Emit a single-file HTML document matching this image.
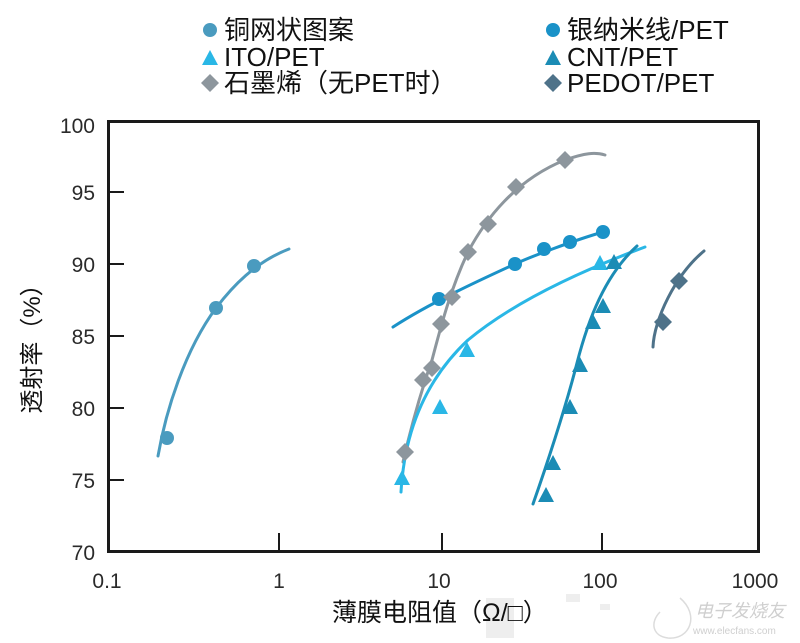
<!DOCTYPE html>
<html>
<head>
<meta charset="utf-8">
<style>
html,body{margin:0;padding:0;background:#fff;}
svg{display:block;}
text{font-family:"Liberation Sans","Noto Sans CJK SC",sans-serif;}
</style>
</head>
<body>
<svg width="800" height="643" viewBox="0 0 800 643" xmlns="http://www.w3.org/2000/svg">
<rect width="800" height="643" fill="#fff"/>

<!-- faint background smudges -->
<g fill="#eeeeee">
  <rect x="486" y="598" width="28" height="40"/>
  <rect x="566" y="594" width="14" height="8"/>
  <rect x="600" y="604" width="10" height="6"/>
</g>

<!-- Legend -->
<g font-size="26" fill="#111">
  <circle cx="210" cy="30" r="7" fill="#4a9bbf"/>
  <text x="224" y="39">铜网状图案</text>
  <polygon points="202,65 218,65 210,50" fill="#2ab7e6"/>
  <text x="224" y="66">ITO/PET</text>
  <polygon points="210,74 219,83 210,92 201,83" fill="#8d969d"/>
  <text x="224" y="92">石墨烯（无PET时）</text>

  <circle cx="553" cy="30" r="7" fill="#1a92c8"/>
  <text x="567" y="39">银纳米线/PET</text>
  <polygon points="545,65 561,65 553,50" fill="#1b8cb5"/>
  <text x="567" y="66">CNT/PET</text>
  <polygon points="553,74 562,83 553,92 544,83" fill="#4e7289"/>
  <text x="567" y="92">PEDOT/PET</text>
</g>

<!-- Axes box -->
<rect x="108.5" y="121.5" width="650" height="430" fill="none" stroke="#1a1a1a" stroke-width="3"/>

<!-- Ticks -->
<g stroke="#1a1a1a" stroke-width="2">
  <line x1="108" y1="192" x2="124" y2="192"/>
  <line x1="108" y1="264" x2="124" y2="264"/>
  <line x1="108" y1="336" x2="124" y2="336"/>
  <line x1="108" y1="408" x2="124" y2="408"/>
  <line x1="108" y1="480" x2="124" y2="480"/>
  <line x1="279" y1="551" x2="279" y2="533"/>
  <line x1="442" y1="551" x2="442" y2="533"/>
  <line x1="602" y1="551" x2="602" y2="533"/>
</g>

<!-- Y tick labels -->
<g font-size="21" fill="#2a2a2a" text-anchor="end">
  <text x="95" y="133">100</text>
  <text x="95" y="200">95</text>
  <text x="95" y="272">90</text>
  <text x="95" y="344">85</text>
  <text x="95" y="416">80</text>
  <text x="95" y="488">75</text>
  <text x="95" y="560">70</text>
</g>
<!-- X tick labels -->
<g font-size="21" fill="#2a2a2a" text-anchor="middle">
  <text x="107" y="588">0.1</text>
  <text x="279" y="588">1</text>
  <text x="439" y="588">10</text>
  <text x="600" y="588">100</text>
  <text x="755" y="588">1000</text>
</g>

<!-- Axis titles -->
<text x="0" y="0" font-size="24" fill="#111" text-anchor="middle" transform="translate(40,343) rotate(-90)">透射率（%）</text>
<text x="332" y="621" font-size="25" fill="#111">薄膜电阻值（Ω/□）</text>

<!-- Watermark -->
<g fill="#cfcfcf">
  <text x="695" y="617" font-size="18" font-style="italic">电子发烧友</text>
  <text x="693" y="634" font-size="10">www.elecfans.com</text>
</g>
<path d="M680,598 C700,615 690,640 668,638 C652,636 650,622 660,612" fill="none" stroke="#dcdcdc" stroke-width="1.5"/>

<!-- Curves -->
<g fill="none" stroke-width="3" stroke-linecap="round">
  <path d="M158,456 C166,410 185,350 216,308 C232,287 255,262 289,249" stroke="#4a9bbf"/>
  <path d="M403,462 C415,410 425,380 432,360 C440,330 450,290 468,252 C485,220 515,180 565,160 C585,153 595,152 605,155" stroke="#8d969d"/>
  <path d="M393,327 C430,303 480,280 515,264 C530,257 575,240 603,232" stroke="#1a92c8"/>
  <path d="M401,492 C404,440 420,385 468,340 C510,305 570,275 645,247" stroke="#2ab7e6"/>
  <path d="M533,504 C545,470 565,410 577,363 C588,320 605,275 637,246" stroke="#1b8cb5"/>
  <path d="M653,347 C654,320 675,275 704,251" stroke="#4e7289"/>
</g>

<!-- Copper mesh markers -->
<g fill="#4a9bbf">
  <circle cx="167" cy="438" r="7"/>
  <circle cx="216" cy="308" r="7"/>
  <circle cx="254" cy="266" r="7"/>
</g>
<!-- Silver nanowire markers -->
<g fill="#1a92c8">
  <circle cx="439" cy="299" r="7"/>
  <circle cx="515" cy="264" r="7"/>
  <circle cx="544" cy="249" r="7"/>
  <circle cx="570" cy="242" r="7"/>
  <circle cx="603" cy="232" r="7"/>
</g>
<!-- ITO triangles -->
<g fill="#2ab7e6">
  <polygon points="394,485 410,485 402,470"/>
  <polygon points="432,414 448,414 440,399"/>
  <polygon points="459,357 475,357 467,342"/>
  <polygon points="592,270 608,270 600,255"/>
</g>
<!-- CNT triangles -->
<g fill="#1b8cb5">
  <polygon points="538,502 554,502 546,487"/>
  <polygon points="545,470 561,470 553,455"/>
  <polygon points="562,414 578,414 570,399"/>
  <polygon points="572,372 588,372 580,357"/>
  <polygon points="585,329 601,329 593,314"/>
  <polygon points="595,313 611,313 603,298"/>
  <polygon points="606,269 622,269 614,254"/>
</g>
<!-- Graphene diamonds -->
<g fill="#8d969d">
  <polygon points="405,443 414,452 405,461 396,452"/>
  <polygon points="423,371 432,380 423,389 414,380"/>
  <polygon points="432,359 441,368 432,377 423,368"/>
  <polygon points="441,315 450,324 441,333 432,324"/>
  <polygon points="452,288 461,297 452,306 443,297"/>
  <polygon points="468,243 477,252 468,261 459,252"/>
  <polygon points="488,215 497,224 488,233 479,224"/>
  <polygon points="516,178 525,187 516,196 507,187"/>
  <polygon points="565,151 574,160 565,169 556,160"/>
</g>
<!-- PEDOT diamonds -->
<g fill="#4e7289">
  <polygon points="663,313 672,322 663,331 654,322"/>
  <polygon points="679,272 688,281 679,290 670,281"/>
</g>
</svg>
</body>
</html>
